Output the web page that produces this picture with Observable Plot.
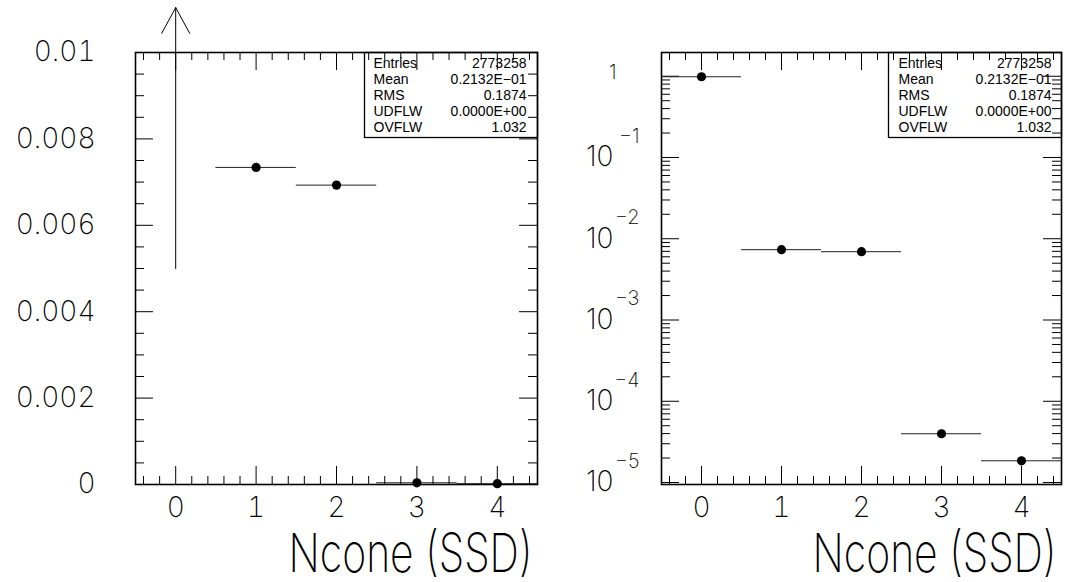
<!DOCTYPE html>
<html><head><meta charset="utf-8">
<script src="https://cdn.jsdelivr.net/npm/d3@7"></script>
<script src="https://cdn.jsdelivr.net/npm/@observablehq/plot@0.6"></script>
<style>
body{margin:0;background:#fff;}
#wrap{display:flex;width:1065px;height:582px;overflow:hidden;}
#wrap svg{display:block;}
</style></head><body><div id="wrap"></div>
<script>
// ---- data ----
const bins = [0, 1, 2, 3, 4];
const fractions = [0.9857, 0.00734, 0.00693, 3.98e-5, 1.85e-5];
const binWidth = 1;
const xTickLabels = ["0", "1", "2", "3", "4"];
const linTicks = [0, 0.002, 0.004, 0.006, 0.008, 0.01];
const linTickLabels = ["0", "0.002", "0.004", "0.006", "0.008", "0.01"];
const logDecades = [-5, -4, -3, -2, -1, 0];
const statNames = ["Entries", "Mean", "RMS", "UDFLW", "OVFLW"];
const statValues = ["2773258", "0.2132E\u221201", "0.1874", "0.0000E+00", "1.032"];
const xTitle = "Ncone (SSD)";
const xDomain = [-0.5, 4.5];
const linDomain = [0, 0.01];
const logDomain = [9.45e-6, 1.96];
const arrowBase = 0.005, arrowTip = 0.01104;

const data = bins.map((b, i) => ({x: b, v: fractions[i]}));

const FONT = "Inter, 'DejaVu Sans', sans-serif";
const WEIGHT = 250;
const H = 582, mT = 52, mB = 98;
const fH = H - mT - mB;

const xMajor = bins;
const xMinor = d3.range(-2, 23).filter(i => i % 5 !== 0).map(i => i * 0.2);
const linMinor = d3.range(0, 21).filter(i => i % 4 !== 0).map(i => i * 0.0005);
const logMajor = logDecades.map(k => 10 ** k);
const logMinor = [];
for (let k = -6; k <= 0; k++) for (let m = 2; m <= 9; m++) {
  const v = m * 10 ** k;
  if (v > logDomain[0] && v < logDomain[1]) logMinor.push(v);
}

function xTicks(vals, len) {
  return [
    Plot.ruleX(vals, {x: d => d, insetTop: fH - len, stroke: "#000"}),
    Plot.ruleX(vals, {x: d => d, insetBottom: fH - len, stroke: "#000"})
  ];
}
function yTicks(vals, len, fW) {
  return [
    Plot.ruleY(vals, {y: d => d, insetRight: fW - len, stroke: "#000"}),
    Plot.ruleY(vals, {y: d => d, insetLeft: fW - len, stroke: "#000"})
  ];
}
function statBox(w, h) {
  return (index, scales, values, dims) => {
    const r = document.createElementNS("http://www.w3.org/2000/svg", "rect");
    r.setAttribute("x", dims.width - dims.marginRight - w + 0.5);
    r.setAttribute("y", dims.marginTop + 0.5);
    r.setAttribute("width", w);
    r.setAttribute("height", h);
    r.setAttribute("fill", "none");
    r.setAttribute("stroke", "#000");
    r.setAttribute("stroke-width", 1.3);
    return r;
  };
}
function statMarks(labelDx, valueDx) {
  const common = {frameAnchor: "top-right", lineAnchor: "top", dy: 4, fontSize: 14,
    lineHeight: 1.15, fontFamily: "'Liberation Sans', Arial, sans-serif", fontWeight: 400, fill: "#000"};
  return [
    statBox(173, 85),
    Plot.text([statNames.join("\n")], {...common, text: d => d, dx: labelDx, textAnchor: "start"}),
    Plot.text([statValues.join("\n")], {...common, text: d => d, dx: valueDx, textAnchor: "end"})
  ];
}
function titleMark() {
  return Plot.text([xTitle], {text: d => d, frameAnchor: "bottom-right", dx: -5, dy: 87,
    textAnchor: "end", lineAnchor: "bottom", fontSize: 54, fill: "#000"});
}
function fixTitle(svg) {
  d3.select(svg).selectAll("text").filter(function () { return this.textContent === xTitle; })
    .attr("textLength", 244).attr("lengthAdjust", "spacingAndGlyphs");
  return svg;
}
const xAxis = () => Plot.axisX(xMajor, {tickSize: 0, tickPadding: 13, fontSize: 28, label: null,
  tickFormat: d => xTickLabels[bins.indexOf(d)]});
const errBars = rows => Plot.ruleY(rows, {y: "v", x1: d => d.x - binWidth / 2, x2: d => d.x + binWidth / 2, stroke: "#222", strokeWidth: 1});
const dots = rows => Plot.dot(rows, {x: "x", y: "v", r: 4.6, fill: "#000", stroke: "none"});
const plotStyle = {fontFamily: FONT, fontWeight: WEIGHT, background: "#fff", color: "#000", overflow: "visible"};

// ---- left: linear ----
const leftW = 560, leftML = 135, leftMR = 23;
const onScale = data.filter(d => d.v <= linDomain[1]);
const offScale = data.filter(d => d.v > linDomain[1]);
const left = Plot.plot({
  width: leftW, height: H, marginLeft: leftML, marginRight: leftMR, marginTop: mT, marginBottom: mB,
  style: plotStyle,
  x: {domain: xDomain, axis: null},
  y: {domain: linDomain, axis: null},
  marks: [
    ...xTicks(xMinor, 8), ...xTicks(xMajor, 18),
    ...yTicks(linMinor, 9, leftW - leftML - leftMR), ...yTicks(linTicks, 18, leftW - leftML - leftMR),
    Plot.frame({stroke: "#000", strokeWidth: 1.6}),
    xAxis(),
    Plot.axisY(linTicks, {tickSize: 0, tickPadding: 40, fontSize: 28, label: null,
      tickFormat: d => linTickLabels[linTicks.indexOf(d)]}),
    errBars(onScale), dots(onScale),
    Plot.arrow(offScale, {x: "x", y1: () => arrowBase, y2: () => arrowTip, headAngle: 57, headLength: 44, strokeWidth: 1, stroke: "#000"}),
    ...statMarks(-164, -11),
    titleMark()
  ]
});

// ---- right: log ----
const rightW = 505, rightML = 101, rightMR = 4;
const right = Plot.plot({
  width: rightW, height: H, marginLeft: rightML, marginRight: rightMR, marginTop: mT, marginBottom: mB,
  style: plotStyle,
  x: {domain: xDomain, axis: null},
  y: {type: "log", domain: logDomain, axis: null},
  marks: [
    ...xTicks(xMinor, 8), ...xTicks(xMajor, 18),
    ...yTicks(logMinor, 9, rightW - rightML - rightMR), ...yTicks(logMajor, 18, rightW - rightML - rightMR),
    Plot.frame({stroke: "#000", strokeWidth: 1.6}),
    xAxis(),
    Plot.text(logDecades.filter(k => k < 0), {y: k => 10 ** k, text: () => "10", frameAnchor: "left",
      dx: -48, textAnchor: "end", lineAnchor: "middle", fontSize: 28, fill: "#000"}),
    Plot.text(logDecades.filter(k => k < 0), {y: k => 10 ** k, text: k => "\u2212" + (-k), frameAnchor: "left",
      dx: -22, dy: -21, textAnchor: "end", lineAnchor: "middle", fontSize: 20, fill: "#000"}),
    Plot.text(logDecades.filter(k => k === 0), {y: k => 10 ** k, text: () => "1", frameAnchor: "left",
      dx: -45, dy: -4, textAnchor: "end", lineAnchor: "middle", fontSize: 20, fill: "#000"}),
    errBars(data), dots(data),
    ...statMarks(-163, -10),
    titleMark()
  ]
});

const wrap = document.getElementById("wrap");
wrap.appendChild(fixTitle(left));
wrap.appendChild(fixTitle(right));
</script></body></html>
